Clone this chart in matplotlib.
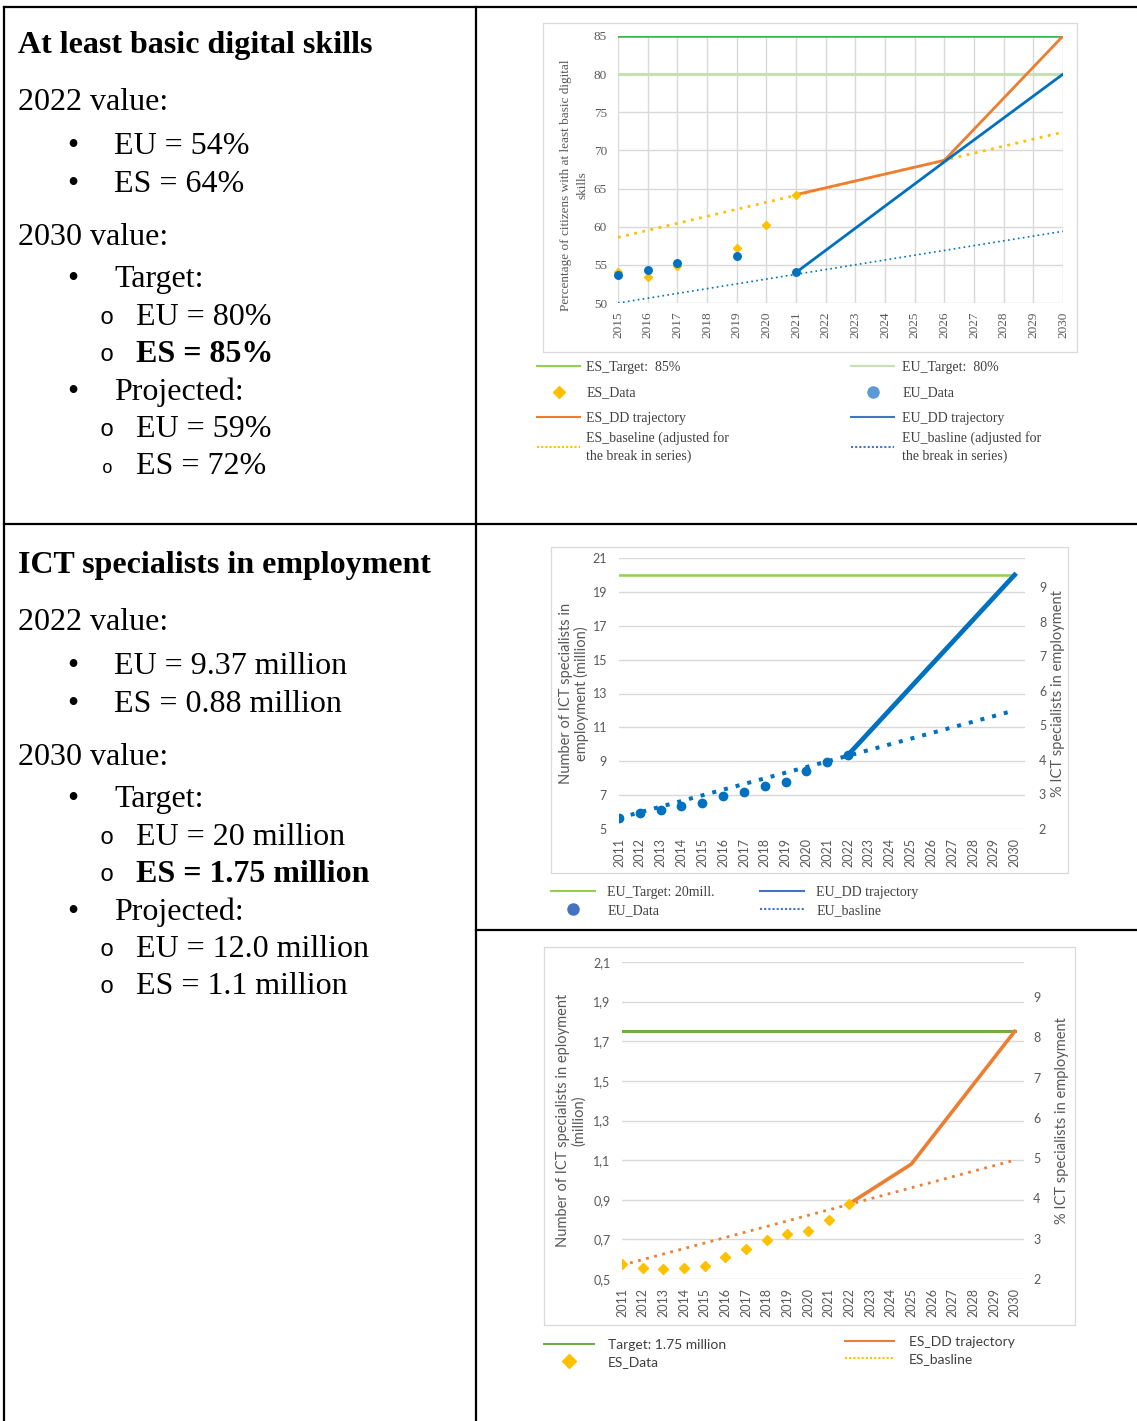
import matplotlib
matplotlib.use("Agg")
import matplotlib.pyplot as plt
from matplotlib.lines import Line2D
from matplotlib.patches import Rectangle

# ---------------------------------------------------------------- data
# At least basic digital skills (% of citizens)
dsk_years = list(range(2015, 2031))
dsk_es_target = 85
dsk_eu_target = 80
dsk_es_data_years = [2015, 2016, 2017, 2019, 2020, 2021]
dsk_es_data = [54.0, 53.4, 54.8, 57.2, 60.2, 64.2]
dsk_eu_data_years = [2015, 2016, 2017, 2019, 2021]
dsk_eu_data = [53.7, 54.3, 55.2, 56.1, 54.0]
dsk_es_dd_years = [2021, 2026, 2030]
dsk_es_dd = [64.2, 68.7, 85.0]
dsk_eu_dd_years = [2021, 2026, 2030]
dsk_eu_dd = [54.0, 68.5, 80.0]
dsk_es_base_years = [2015, 2030]
dsk_es_base = [58.6, 72.4]
dsk_eu_base_years = [2015, 2030]
dsk_eu_base = [50.0, 59.4]

# ICT specialists in employment, EU (million)
ict_years = list(range(2011, 2031))
ict_eu_target = 20
ict_eu_data_years = list(range(2011, 2023))
ict_eu_data = [5.67, 5.93, 6.14, 6.36, 6.56, 6.93, 7.21, 7.56, 7.80, 8.41, 8.94, 9.37]
ict_eu_dd_years = [2022, 2030]
ict_eu_dd = [9.37, 20.0]
ict_eu_base_years = [2011, 2030]
ict_eu_base = [5.65, 12.0]

# ICT specialists in employment, ES (million)
ict_es_target = 1.75
ict_es_data_years = list(range(2011, 2023))
ict_es_data = [0.576, 0.557, 0.552, 0.557, 0.566, 0.613, 0.653, 0.695, 0.727, 0.741, 0.800, 0.88]
ict_es_dd_years = [2022, 2025, 2030]
ict_es_dd = [0.88, 1.08, 1.75]
ict_es_base_years = [2011, 2030]
ict_es_base = [0.57, 1.10]

# axis ticks
dsk_yticks = [50, 55, 60, 65, 70, 75, 80, 85]
eu_ict_yticks = [5, 7, 9, 11, 13, 15, 17, 19, 21]
es_ict_yticks = [0.5, 0.7, 0.9, 1.1, 1.3, 1.5, 1.7, 1.9, 2.1]
es_ict_yticklabels = ["0,5", "0,7", "0,9", "1,1", "1,3", "1,5", "1,7", "1,9", "2,1"]
share_yticks = [2, 3, 4, 5, 6, 7, 8, 9]

# text panels
dsk_title = "At least basic digital skills"
dsk_2022 = ["EU = 54%", "ES = 64%"]
dsk_target = ["EU = 80%", "ES = 85%"]
dsk_projected = ["EU = 59%", "ES = 72%"]
ict_title = "ICT specialists in employment"
ict_2022 = ["EU = 9.37 million", "ES = 0.88 million"]
ict_target = ["EU = 20 million", "ES = 1.75 million"]
ict_projected = ["EU = 12.0 million", "ES = 1.1 million"]

# ---------------------------------------------------------------- figure
W, H = 1137, 1421
fig = plt.figure(figsize=(W / 100, H / 100), dpi=100)

SERIF = "Liberation Serif"
SANS = "Lato"
MONO = "Liberation Mono"
GRID = "#D9D9D9"
TXT = "#595959"
LEG = "#404040"
BLUE = "#0070C0"
ORANGE = "#ED7D31"
YELLOW = "#FFC000"


def box(l, t, r, b):
    return [l / W, 1 - b / H, (r - l) / W, (b - t) / H]


def fxy(x, y):
    return (x / W, 1 - y / H)


def fig_line(x0, y0, x1, y1, **kw):
    (a, b), (c, d) = fxy(x0, y0), fxy(x1, y1)
    fig.add_artist(Line2D([a, c], [b, d], transform=fig.transFigure, **kw))


def frame(l, t, r, b):
    x, y = fxy(l, b)
    fig.add_artist(Rectangle((x, y), (r - l) / W, (b - t) / H, transform=fig.transFigure,
                             fill=False, ec=GRID, lw=0.9))


# table rules
for args in [(4, 7, 1137, 7), (4, 7, 4, 1421), (476, 7, 476, 1421),
             (4, 524, 1137, 524), (476, 930, 1137, 930)]:
    fig_line(*args, color="black", lw=1.6, solid_capstyle="projecting")

# ---------------------------------------------------------------- text panels
BODY = 23
offsets = [0, 57, 101, 139, 192, 234, 272, 309, 347, 384, 421]


def put(x, y, s, **kw):
    p = dict(fontsize=BODY, family=SERIF, va="baseline", ha="left", color="black")
    p.update(kw)
    fig.text(*fxy(x, y), s, **p)


def panel(top, title, v2022, target, projected, small_last=False):
    y = [top + o for o in offsets]
    put(18, y[0], title, weight="bold")
    put(18, y[1], "2022 value:")
    for i, s in enumerate(v2022):
        put(73, y[2 + i], "\u2022", ha="center")
        put(114, y[2 + i], s)
    put(18, y[4], "2030 value:")
    put(73, y[5], "\u2022", ha="center")
    put(114, y[5], "Target:")
    for i, s in enumerate(target):
        put(107, y[6 + i] - 1, "o", family=MONO, ha="center", fontsize=17)
        put(136, y[6 + i], s, weight="bold" if i == 1 else "normal")
    put(73, y[8], "\u2022", ha="center")
    put(114, y[8], "Projected:")
    for i, s in enumerate(projected):
        small = small_last and i == 1
        put(107, y[9 + i] - 1, "o", family=MONO, ha="center", fontsize=13 if small else 17)
        put(136, y[9 + i], s)


panel(53, dsk_title, dsk_2022, dsk_target, dsk_projected, small_last=True)
panel(573, ict_title, ict_2022, ict_target, ict_projected)


def style_axes(ax, family, size, ypad, xpad, vgrid):
    for s in ax.spines.values():
        s.set_visible(False)
    ax.grid(True, axis="both" if vgrid else "y", color=GRID, lw=1)
    ax.set_axisbelow(True)
    ax.tick_params(axis="both", length=0, labelsize=size, labelcolor=TXT, labelfontfamily=family)
    ax.tick_params(axis="y", pad=ypad)
    ax.tick_params(axis="x", pad=xpad, labelrotation=90)


def legend(handles, labels, x, y, family, size, hl, htp, ls, text_ls=None):
    leg = fig.legend(handles, labels, loc="upper left", bbox_to_anchor=fxy(x, y),
                     bbox_transform=fig.transFigure, frameon=False, borderpad=0,
                     borderaxespad=0, handlelength=hl, handletextpad=htp, labelspacing=ls,
                     prop=dict(family=family, size=size), labelcolor=LEG)
    if text_ls:
        for t in leg.get_texts():
            t.set_linespacing(text_ls)
    return leg


# ---------------------------------------------------------------- digital skills chart
frame(543, 23, 1077, 352)
ax1 = fig.add_axes(box(618, 36, 1063, 303))
span = [dsk_years[0], dsk_years[-1]]
ax1.plot(span, [dsk_es_target] * 2, color="#3DB54A", lw=1.8, zorder=2)
ax1.plot(span, [dsk_eu_target] * 2, color="#C5E0B4", lw=2.2, zorder=2)
ax1.plot(dsk_es_base_years, dsk_es_base, color=YELLOW, lw=2, ls=(0, (1, 2)), zorder=3)
ax1.plot(dsk_eu_base_years, dsk_eu_base, color=BLUE, lw=1.2, ls=(0, (1, 2)), zorder=3)
ax1.plot(dsk_es_dd_years, dsk_es_dd, color=ORANGE, lw=2, zorder=4)
ax1.plot(dsk_eu_dd_years, dsk_eu_dd, color=BLUE, lw=2, zorder=4)
ax1.plot(dsk_es_data_years, dsk_es_data, ls="none", marker="D", ms=3.6, color=YELLOW,
         zorder=5, clip_on=False)
ax1.plot(dsk_eu_data_years, dsk_eu_data, ls="none", marker="o", ms=5.4, color=BLUE,
         zorder=6, clip_on=False)
ax1.set_xlim(span)
ax1.set_ylim(dsk_yticks[0], dsk_yticks[-1])
ax1.set_xticks(dsk_years)
ax1.set_xticklabels([str(y) for y in dsk_years])
ax1.set_yticks(dsk_yticks)
style_axes(ax1, SERIF, 9.5, 8, 6, True)
ax1.set_ylabel("Percentage of citizens with at least basic digital\nskills", family=SERIF,
               fontsize=9.5, color=TXT, va="center", ha="center", linespacing=1.45)
ax1.yaxis.set_label_coords(-0.098, 0.44)

# legend: three single-line rows, then the two-line baseline entry
for x, htp, hs, ls_ in [
    (537, 0.45,
     [Line2D([], [], color="#92D050", lw=1.5),
      Line2D([], [], color=YELLOW, marker="D", ms=6.5, ls="none"),
      Line2D([], [], color=ORANGE, lw=1.5)],
     ["ES_Target:  85%", "ES_Data", "ES_DD trajectory"]),
    (851, 0.6,
     [Line2D([], [], color="#C5E0B4", lw=1.5),
      Line2D([], [], color="#5B9BD5", marker="o", ms=8, ls="none"),
      Line2D([], [], color="#4472C4", lw=1.5)],
     ["EU_Target:  80%", "EU_Data", "EU_DD trajectory"]),
]:
    legend(hs, ls_, x, 361, SERIF, 10, 3.1, htp, 0.9)
legend([Line2D([], [], color=YELLOW, lw=1.5, ls=(0, (1, 1)))],
       ["ES_baseline (adjusted for\nthe break in series)"],
       537, 431, SERIF, 10, 3.1, 0.45, 0.9, text_ls=1.42)
legend([Line2D([], [], color="#4472C4", lw=1.5, ls=(0, (1, 1)))],
       ["EU_basline (adjusted for\nthe break in series)"],
       851, 431, SERIF, 10, 3.1, 0.6, 0.9, text_ls=1.42)

# ---------------------------------------------------------------- EU ICT specialists chart
frame(551, 547, 1068, 873)
ax2 = fig.add_axes(box(619, 558, 1025, 829))
span = [ict_years[0], ict_years[-1]]
ax2.plot(span, [ict_eu_target] * 2, color="#92D050", lw=1.8, zorder=2)
ax2.plot(ict_eu_base_years, ict_eu_base, color=BLUE, lw=2.9, ls=(0, (1, 2)), zorder=3)
ax2.plot(ict_eu_dd_years, ict_eu_dd, color=BLUE, lw=3.4, zorder=4)
ax2.plot(ict_eu_data_years, ict_eu_data, ls="none", marker="o", ms=6, color=BLUE, zorder=5)
ax2.set_xlim(ict_years[0], ict_years[-1] + 0.5)
ax2.set_ylim(eu_ict_yticks[0], eu_ict_yticks[-1])
ax2.set_xticks(ict_years)
ax2.set_xticklabels([str(y) for y in ict_years])
ax2.set_yticks(eu_ict_yticks)
style_axes(ax2, SANS, 9, 8.6, 6.5, False)
ax2.set_ylabel("Number of ICT specialists in\nemployment (million)", family=SANS,
               fontsize=10.5, color=TXT, va="center", ha="center", linespacing=1.05)
ax2.yaxis.set_label_coords(-0.111, 0.5)
ax2r = ax2.twinx()
ax2r.set_ylim(2, 9.85)
ax2r.set_yticks(share_yticks)
for s in ax2r.spines.values():
    s.set_visible(False)
ax2r.tick_params(length=0, labelsize=9, labelcolor=TXT, labelfontfamily=SANS, pad=10)
ax2r.set_ylabel("% ICT specialists in employment", family=SANS, fontsize=10.5, color=TXT,
                rotation=90, va="center", ha="center")
ax2r.yaxis.set_label_coords(1.081, 0.5)

legend([Line2D([], [], color="#92D050", lw=1.5),
        Line2D([], [], color="#4472C4", marker="o", ms=8, ls="none")],
       ["EU_Target: 20mill.", "EU_Data"], 551, 886, SERIF, 10, 3.2, 0.85, 0.35)
legend([Line2D([], [], color="#4472C4", lw=1.5),
        Line2D([], [], color="#4472C4", lw=1.5, ls=(0, (1, 1)))],
       ["EU_DD trajectory", "EU_basline"], 760, 886, SERIF, 10, 3.2, 0.85, 0.35)

# ---------------------------------------------------------------- ES ICT specialists chart
frame(544, 947, 1075, 1325)
ax3 = fig.add_axes(box(622, 962, 1024, 1279))
ax3.plot(span, [ict_es_target] * 2, color="#70AD47", lw=2.2, zorder=2)
ax3.plot(ict_es_base_years, ict_es_base, color=ORANGE, lw=2, ls=(0, (1, 2)), zorder=3)
ax3.plot(ict_es_dd_years, ict_es_dd, color=ORANGE, lw=2.6, zorder=4)
ax3.plot(ict_es_data_years, ict_es_data, ls="none", marker="D", ms=5, color=YELLOW, zorder=5)
ax3.set_xlim(ict_years[0], ict_years[-1] + 0.45)
ax3.set_ylim(es_ict_yticks[0], es_ict_yticks[-1])
ax3.set_xticks(ict_years)
ax3.set_xticklabels([str(y) for y in ict_years])
ax3.set_yticks(es_ict_yticks)
ax3.set_yticklabels(es_ict_yticklabels)
style_axes(ax3, SANS, 9, 8.2, 6.5, False)
ax3.set_ylabel("Number of ICT specialists in eployment\n(million)", family=SANS,
               fontsize=10.5, color=TXT, va="center", ha="center", linespacing=1.2)
ax3.yaxis.set_label_coords(-0.127, 0.5)
ax3r = ax3.twinx()
ax3r.set_ylim(2, 9.87)
ax3r.set_yticks(share_yticks)
for s in ax3r.spines.values():
    s.set_visible(False)
ax3r.tick_params(length=0, labelsize=9, labelcolor=TXT, labelfontfamily=SANS, pad=6.5)
ax3r.set_ylabel("% ICT specialists in employment", family=SANS, fontsize=10.5, color=TXT,
                rotation=90, va="center", ha="center")
ax3r.yaxis.set_label_coords(1.095, 0.5)

legend([Line2D([], [], color="#70AD47", lw=1.5),
        Line2D([], [], color=YELLOW, marker="D", ms=7, ls="none")],
       ["Target: 1.75 million", "ES_Data"], 544, 1339, SANS, 10, 3.6, 1.0, 0.38)
legend([Line2D([], [], color=ORANGE, lw=1.5),
        Line2D([], [], color=YELLOW, lw=1.5, ls=(0, (1, 1)))],
       ["ES_DD trajectory", "ES_basline"], 845, 1336, SANS, 10, 3.5, 1.1, 0.38)

fig.savefig("out.png", dpi=100, facecolor="white")
